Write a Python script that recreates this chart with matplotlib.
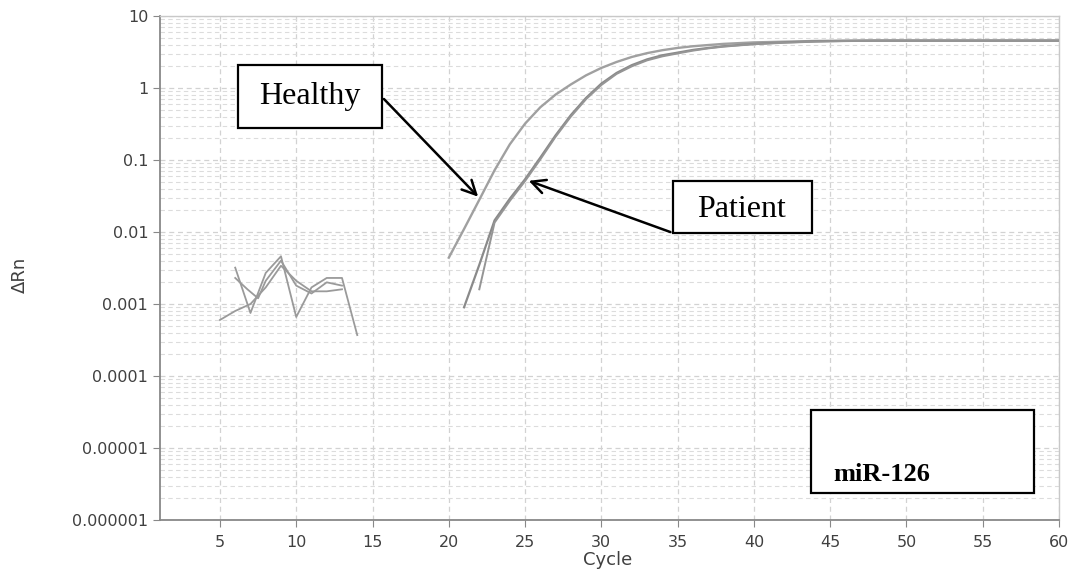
import matplotlib
matplotlib.use("Agg")
import matplotlib.pyplot as plt
from matplotlib.ticker import FixedLocator, FixedFormatter, LogLocator, NullFormatter
import numpy as np

# ---- data ----
healthy_cycles = [20, 21, 22, 23, 24, 25, 26, 27, 28, 29, 30, 31, 32, 33, 34, 35, 36, 37, 38, 39, 40,
                  42, 44, 46, 48, 50, 55, 60]
healthy_drn = [0.0044, 0.011, 0.028, 0.072, 0.165, 0.32, 0.54, 0.81, 1.12, 1.5, 1.9, 2.3, 2.7, 3.05, 3.35,
               3.6, 3.8, 3.95, 4.1, 4.2, 4.3, 4.4, 4.5, 4.55, 4.55, 4.55, 4.55, 4.55]

patient1_cycles = [21, 22, 23, 24, 25, 26, 27, 28, 29, 30, 31, 32, 33, 34, 35, 36, 37, 38, 39, 40,
                   42, 44, 46, 48, 50, 55, 60]
patient1_drn = [0.0009, 0.0035, 0.0145, 0.029, 0.054, 0.108, 0.22, 0.42, 0.73, 1.15, 1.62, 2.08, 2.5,
                2.85, 3.1, 3.38, 3.6, 3.8, 3.95, 4.1, 4.3, 4.45, 4.5, 4.55, 4.55, 4.55, 4.55]

patient2_cycles = [22, 23, 24, 25, 26, 27, 28, 29, 30, 31, 32, 33, 34, 35, 36, 37, 38, 39, 40,
                   42, 44, 46, 48, 50, 55, 60]
patient2_drn = [0.0016, 0.0135, 0.027, 0.051, 0.102, 0.21, 0.4, 0.7, 1.1, 1.57, 2.0, 2.42, 2.75, 3.02,
                3.3, 3.55, 3.75, 3.9, 4.05, 4.25, 4.4, 4.5, 4.55, 4.55, 4.55, 4.55]

noise1_cycles = [5, 6, 7, 8, 9, 10, 11, 12, 13]
noise1_drn = [0.0006, 0.0008, 0.001, 0.0017, 0.0034, 0.0021, 0.0015, 0.0015, 0.0016]
noise2_cycles = [6, 7, 8, 9, 10, 11, 12, 13, 14]
noise2_drn = [0.0032, 0.00075, 0.0027, 0.0046, 0.00066, 0.0017, 0.0023, 0.0023, 0.00037]
noise3_cycles = [6, 6.8, 7.5, 8, 9, 10, 11, 12, 13]
noise3_drn = [0.0023, 0.0016, 0.0012, 0.0021, 0.004, 0.0018, 0.0014, 0.002, 0.0018]

x_ticks = [5, 10, 15, 20, 25, 30, 35, 40, 45, 50, 55, 60]
y_ticks = [1e-6, 1e-5, 1e-4, 1e-3, 1e-2, 1e-1, 1, 10]
y_tick_labels = ["0.000001", "0.00001", "0.0001", "0.001", "0.01", "0.1", "1", "10"]

# ---- figure ----
W, H = 1069, 573
fig = plt.figure(figsize=(W / 100, H / 100), dpi=100)
ax = fig.add_axes([160 / W, (H - 520) / H, 899 / W, 504 / H])
ax.set_yscale("log")
ax.set_xlim(1.07, 60)
ax.set_ylim(1e-6, 10)

for xs, ys in [(noise1_cycles, noise1_drn), (noise2_cycles, noise2_drn), (noise3_cycles, noise3_drn)]:
    ax.plot(xs, ys, color="#9a9a9a", lw=1.3, zorder=3, solid_joinstyle="round")
ax.plot(healthy_cycles, healthy_drn, color="#a0a0a0", lw=1.7, zorder=3, solid_joinstyle="round")
ax.plot(patient1_cycles, patient1_drn, color="#8a8a8a", lw=1.6, zorder=3, solid_joinstyle="round")
ax.plot(patient2_cycles, patient2_drn, color="#959595", lw=1.4, zorder=3, solid_joinstyle="round")

# ticks
ax.xaxis.set_major_locator(FixedLocator(x_ticks))
ax.set_xticklabels([str(t) for t in x_ticks])
ax.yaxis.set_major_locator(FixedLocator(y_ticks))
ax.yaxis.set_major_formatter(FixedFormatter(y_tick_labels))
ax.yaxis.set_minor_locator(LogLocator(base=10, subs=np.arange(2, 10)))
ax.yaxis.set_minor_formatter(NullFormatter())
ax.tick_params(axis="both", which="major", length=5, color="#888888", labelcolor="#404040",
               labelsize=11.5)
ax.tick_params(axis="y", which="minor", length=0)
ax.tick_params(axis="x", pad=6)

for lab in ax.get_xticklabels() + ax.get_yticklabels():
    lab.set_family("DejaVu Sans")

ax.grid(True, which="major", axis="both", color="#d2d2d2", ls=(0, (4, 3)), lw=0.9, zorder=0)
ax.grid(True, which="minor", axis="y", color="#dcdcdc", ls=(0, (4, 3)), lw=0.8, zorder=0)

for s in ["left", "bottom"]:
    ax.spines[s].set_color("#888888")
    ax.spines[s].set_linewidth(1.3)
for s in ["top", "right"]:
    ax.spines[s].set_color("#c8c8c8")
    ax.spines[s].set_linewidth(1.0)

fig.text(20 / W, 1 - 275 / H, "ΔRn", rotation=90, ha="center", va="center",
         fontsize=13, color="#404040", family="DejaVu Sans")
fig.text(608 / W, 1 - 560 / H, "Cycle", ha="center", va="center",
         fontsize=13, color="#404040", family="DejaVu Sans")

# ---- annotation boxes ----
def fig_rect(x0, y0, x1, y1):
    r = plt.Rectangle((x0, H - y1), x1 - x0, y1 - y0, transform=None, fill=True,
                      facecolor="white", edgecolor="black", lw=1.6, zorder=5)
    fig.add_artist(r)

fig_rect(238, 65, 382, 128)
fig_rect(673, 181, 812, 233)
fig_rect(811, 410, 1034, 493)

fig.text(310 / W, 1 - 97 / H, "Healthy", ha="center", va="center", fontsize=23,
         family="Liberation Serif", zorder=6)
fig.text(742 / W, 1 - 209 / H, "Patient", ha="center", va="center", fontsize=23,
         family="Liberation Serif", zorder=6)
fig.text(833 / W, 1 - 481 / H, "miR-126", ha="left", va="baseline", fontsize=19,
         family="Liberation Serif", fontweight="bold", zorder=6)

arrow_kw = dict(arrowstyle="->", color="black", lw=1.8, mutation_scale=25)
ax.annotate("", xy=(22.05, 0.029), xycoords="data", xytext=(382, H - 97),
            textcoords="figure pixels", arrowprops=arrow_kw, zorder=6)
ax.annotate("", xy=(25.07, 0.053), xycoords="data", xytext=(673, H - 233),
            textcoords="figure pixels", arrowprops=arrow_kw, zorder=6)

fig.savefig("out.png", dpi=100)
